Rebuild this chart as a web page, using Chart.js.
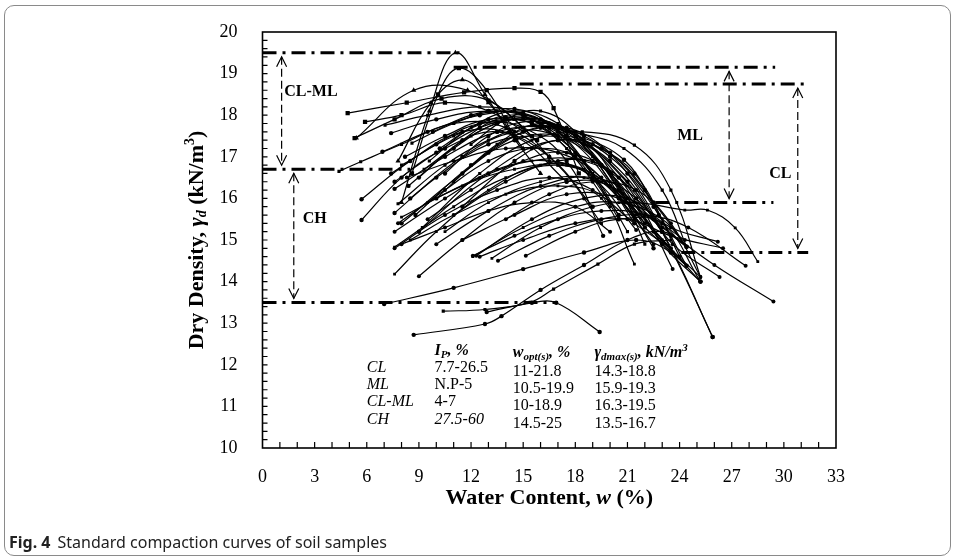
<!DOCTYPE html>
<html>
<head>
<meta charset="utf-8">
<script src="https://cdn.jsdelivr.net/npm/chart.js@4.4.1/dist/chart.umd.min.js"></script>
<style>
  html, body { margin: 0; padding: 0; background: #fff; }
  #wrap { position: relative; width: 955px; height: 560px; overflow: hidden; }
  #frame { position: absolute; left: 4px; top: 5px; width: 947px; height: 551px;
           border: 1.5px solid #8a8a8a; border-radius: 10px; box-sizing: border-box; }
  #chart { position: absolute; left: 0; top: 0; }
  #caption { position: absolute; left: 9px; top: 531px; font: 16px 'Noto Sans', sans-serif; color: #222; }
  #caption b { margin-right: 7px; }
</style>
</head>
<body>
<div id="wrap">
  <div id="frame"></div>
  <canvas id="chart" width="955" height="560"></canvas>
  <div id="caption"><b>Fig. 4</b>Standard compaction curves of soil samples</div>
</div>
<script>
// axes
const xRange = [0, 33];
const xStep = 3;
const yRange = [10, 20];
const yStep = 1;

// compaction curves, [water content %, dry density kN/m3]
const clmlCurves = [
  [[8.0,15.9],[9.6,18.1],[11.1,19.5],[12.8,18.5],[14.2,17.6],[16.0,16.6]],
  [[8.6,16.6],[10.1,18.5],[11.3,19.13],[12.9,18.6],[14.6,17.4]],
  [[7.8,16.9],[9.7,18.3],[11.5,18.85],[13.0,18.3],[15.0,17.2]],
  [[5.4,17.45],[8.7,18.6],[11.8,18.6],[14.5,17.9],[16.5,17.0]],
  [[5.3,17.45],[7.6,17.9],[10.3,18.4],[13.0,18.35],[15.5,17.5]],
  [[4.9,18.05],[8.3,18.3],[11.6,18.55],[14.5,18.65],[16.0,18.56],[16.75,18.17],[18.2,16.6]],
  [[5.9,17.84],[8.0,18.0],[10.5,18.3],[13.0,18.1],[15.8,17.4]]
];

const mlCurves = [
  [[4.4,16.65],[5.65,16.88],[8.0,17.3],[11.0,17.8],[14.0,17.7],[17.0,16.8],[19.5,15.4]],
  [[5.7,15.98],[8.5,16.9],[11.5,17.6],[14.5,17.5],[17.5,16.4]],
  [[5.7,15.48],[8.0,16.5],[10.5,17.2],[13.5,17.6],[16.5,17.0],[19.0,15.8]],
  [[7.05,17.76],[9.5,18.0],[12.5,18.2],[15.0,18.0],[17.5,17.2],[20.0,15.8]],
  [[7.4,17.57],[10.0,17.9],[13.0,18.1],[15.5,17.9],[18.0,17.1],[20.5,15.6]],
  [[6.9,17.12],[9.5,17.6],[12.5,18.0],[15.0,18.05],[17.5,17.5],[20.05,16.6],[22.0,15.3]],
  [[8.6,17.33],[11.0,17.8],[13.5,18.1],[16.0,17.9],[18.5,17.4],[21.4,16.2]],
  [[7.6,16.4],[10.0,17.1],[12.5,17.7],[15.0,17.9],[17.5,17.6],[20.8,16.93],[22.8,15.6]],
  [[7.6,16.23],[10.5,17.0],[13.5,17.6],[16.5,17.7],[19.0,17.3],[21.4,16.6],[23.5,15.1]],
  [[7.8,15.87],[10.5,16.8],[13.0,17.4],[15.5,17.75],[18.35,17.55],[20.8,17.2],[23.0,16.2],[24.4,14.84]],
  [[7.6,15.65],[10.0,16.5],[13.0,17.3],[16.0,17.5],[18.5,17.3],[21.0,16.4],[23.0,15.2]],
  [[8.2,17.0],[10.5,17.5],[13.0,17.9],[15.5,17.8],[18.0,17.0],[20.0,15.9]],
  [[8.0,16.8],[11.0,17.5],[14.0,17.9],[16.5,17.6],[19.0,16.6],[21.0,15.2]],
  [[8.5,16.0],[11.5,17.0],[14.5,17.6],[17.0,17.5],[19.5,16.8],[22.0,15.4]],
  [[9.0,16.5],[11.5,17.4],[14.0,17.95],[16.5,17.7],[19.0,16.9],[21.4,15.4]],
  [[9.6,16.9],[12.0,17.7],[14.5,18.1],[17.0,17.8],[19.0,17.0],[20.8,15.9]],
  [[10.2,17.2],[12.5,17.8],[15.0,18.0],[17.0,17.6],[19.3,16.4]],
  [[8.8,15.6],[12.0,16.8],[15.0,17.6],[17.5,17.7],[20.0,17.1],[22.5,15.9],[24.4,14.84]],
  [[9.2,15.3],[12.5,16.6],[15.5,17.4],[18.4,17.6],[21.4,17.28],[23.5,16.2],[25.2,14.11]],
  [[10.0,16.0],[13.0,17.1],[16.0,17.7],[18.5,17.5],[21.0,16.6],[23.6,14.7],[25.9,12.67]],
  [[9.0,15.2],[13.0,16.6],[17.0,17.4],[20.0,16.9],[23.0,15.2],[25.9,12.67]],
  [[11.0,16.4],[13.5,17.3],[16.0,17.8],[18.5,17.4],[20.5,16.3],[22.0,14.9]],
  [[7.4,16.6],[10.0,17.3],[12.5,17.8],[15.0,17.7],[17.5,16.9],[19.6,15.1]],
  [[8.4,16.3],[11.0,17.2],[13.5,17.8],[16.0,17.9],[18.5,17.3],[20.5,16.2],[22.5,14.8]],
  [[9.3,16.7],[12.0,17.5],[14.5,17.9],[17.0,17.7],[19.5,16.8],[21.5,15.6]],
  [[10.5,16.6],[13.0,17.5],[15.5,17.85],[18.0,17.5],[20.5,16.5],[23.0,14.9],[25.2,14.0]],
  [[8.0,15.4],[11.5,16.6],[14.5,17.4],[17.5,17.5],[20.0,17.0],[22.5,15.8],[24.4,14.38]],
  [[12.0,17.3],[14.0,17.9],[16.0,18.1],[18.0,17.6],[20.0,16.4]],
  [[9.8,17.6],[12.0,18.0],[14.5,18.15],[16.5,17.8],[18.5,16.9],[20.5,15.5]],
  [[11.5,15.8],[14.5,16.9],[17.0,17.4],[19.5,17.2],[22.0,16.2],[24.0,14.6]]
];

const clCurves = [
  [[7.6,15.2],[10.5,16.0],[13.5,16.7],[16.5,16.9],[19.0,16.5],[21.5,15.24]],
  [[7.6,14.83],[11.0,15.8],[14.0,16.5],[17.0,16.8],[19.5,16.4],[22.0,15.3],[24.4,14.38]],
  [[7.6,14.8],[10.5,15.6],[13.5,16.2],[16.5,16.5],[19.0,16.2],[21.4,15.4],[23.5,14.8]],
  [[7.8,15.4],[10.5,16.2],[13.0,16.9],[15.5,17.2],[18.0,17.0],[20.5,16.0],[22.5,14.9]],
  [[7.6,14.18],[10.0,15.2],[13.0,16.2],[16.0,16.8],[18.5,16.7],[21.0,15.9],[23.5,14.8]],
  [[9.0,14.13],[11.5,15.0],[14.5,15.9],[17.5,16.4],[20.0,16.3],[22.5,15.5],[24.4,14.84]],
  [[12.1,14.62],[14.5,15.1],[17.0,15.5],[19.5,15.7],[22.0,15.6],[24.3,15.0]],
  [[12.1,14.6],[15.0,15.3],[18.0,15.8],[20.5,15.9],[23.0,15.5],[24.4,14.84]],
  [[12.3,14.62],[15.5,15.5],[18.5,16.0],[21.0,16.0],[23.5,15.3],[26.2,14.96]],
  [[12.5,14.6],[15.0,15.0],[18.0,15.4],[21.0,15.5],[23.5,15.1],[26.5,14.8]],
  [[13.2,14.56],[16.0,15.3],[19.0,15.8],[21.5,15.9],[24.3,15.72],[25.6,15.72],[27.2,15.29],[28.5,14.48]],
  [[13.55,14.5],[16.5,15.1],[19.5,15.5],[22.0,15.6],[24.5,15.3],[27.8,14.38]],
  [[15.15,14.62],[18.0,15.2],[20.5,15.5],[23.0,15.4],[25.2,14.0]],
  [[8.5,15.0],[11.0,15.6],[14.0,16.1],[17.0,16.3],[19.5,16.0],[21.4,14.42]],
  [[8.0,14.9],[10.5,15.3],[13.0,15.7],[15.5,15.9],[18.0,15.8],[20.0,15.2]],
  [[9.5,15.5],[12.0,16.2],[15.0,16.9],[17.5,17.1],[20.0,16.6],[22.5,15.2],[24.4,14.38]],
  [[10.5,15.2],[13.0,15.9],[16.0,16.4],[18.5,16.5],[21.0,16.0],[23.0,15.0],[25.2,14.11]],
  [[11.0,15.6],[14.0,16.4],[17.0,16.9],[19.5,16.8],[21.5,16.0],[23.6,14.3]],
  [[8.3,16.5],[11.0,16.9],[14.0,17.2],[17.0,17.1],[19.5,16.5],[21.4,15.5]],
  [[8.0,15.55],[11.5,16.3],[14.5,16.7],[17.5,16.8],[20.0,16.3],[22.0,15.4]],
  [[11.5,15.0],[14.5,15.6],[17.5,16.1],[20.5,16.0],[23.0,15.3],[26.0,14.4],[29.4,13.52]],
  [[10.0,14.9],[13.0,15.7],[16.0,16.3],[19.0,16.5],[21.5,16.0],[23.6,14.9],[26.3,14.11]],
  [[9.5,15.9],[12.5,16.5],[15.5,16.9],[18.5,16.9],[21.0,16.3],[23.0,15.2]],
  [[14.0,15.5],[16.5,16.1],[19.0,16.4],[21.5,16.2],[23.5,15.4],[25.2,14.11]]
];

const chCurves = [
  [[7.0,13.46],[11.0,13.85],[15.0,14.3],[18.5,14.7],[21.5,15.0],[23.5,14.7],[25.2,14.0]],
  [[8.7,12.72],[12.8,12.98],[13.75,13.17],[16.0,13.8],[18.5,14.4],[21.0,15.0],[23.0,15.2],[24.4,14.84]],
  [[10.4,13.29],[12.8,13.33],[15.4,13.5],[16.75,13.82],[19.3,14.42],[21.4,14.9],[23.5,15.0]],
  [[12.9,13.27],[15.5,13.49],[16.9,13.49],[19.4,12.79]]
];

// dash-dot limits: [density, from w, to w]
const limitLines = [
  [19.5, 0, 11.5],
  [19.15, 11.0, 29.5],
  [18.75, 14.8, 31.4],
  [16.7, 0, 8.5],
  [15.9, 22.6, 29.4],
  [14.7, 24.1, 31.4],
  [13.5, 0, 17.0]
];

// range arrows: [w, top density, bottom density]
const rangeArrows = [
  [1.1, 19.5, 16.7],
  [1.8, 16.7, 13.5],
  [26.85, 19.15, 15.9],
  [30.8, 18.75, 14.7]
];

// group labels: [text, w, density, align]
const groupLabels = [
  ['CL-ML', 1.25, 18.55, 'left'],
  ['CH', 3.0, 15.5, 'center'],
  ['ML', 24.6, 17.5, 'center'],
  ['CL', 29.8, 16.6, 'center']
];

// summary table
const soilGroups = ['CL', 'ML', 'CL-ML', 'CH'];
const plasticityRanges = ['7.7-26.5', 'N.P-5', '4-7', '27.5-60'];
const optimumWaterRanges = ['11-21.8', '10.5-19.9', '10-18.9', '14.5-25'];
const maxDensityRanges = ['14.3-18.8', '15.9-19.3', '16.3-19.5', '13.5-16.7'];
const tableColW = [6.0, 9.9, 14.4, 19.1];
const tableRowY = [11.92, 11.51, 11.1, 10.67];
const tableHeadY = 12.33;

const SERIF = "'Liberation Serif', 'Times New Roman', serif";
const fnt = (style, size) => `${style} ${size}px ${SERIF}`;

function curveSets(list, styles, radius) {
  return list.map((pts, i) => ({
    data: pts.map(p => ({ x: p[0], y: p[1] })),
    showLine: true,
    borderColor: '#000',
    backgroundColor: '#000',
    borderWidth: 1.2,
    tension: 0.4,
    pointStyle: styles[i % styles.length],
    pointRadius: radius,
    pointBorderWidth: 0,
    order: 2
  }));
}

const datasets = [
  ...curveSets(clmlCurves, ['triangle', 'rect', 'triangle', 'triangle', 'rect', 'rect', 'rect'], 3),
  ...curveSets(mlCurves, ['rect', 'circle', 'circle'], 2.2),
  ...curveSets(clCurves, ['circle', 'rect', 'circle'], 2),
  ...curveSets(chCurves, ['circle', 'circle', 'rect', 'circle'], 2.2)
];

limitLines.forEach(l => datasets.push({
  data: [{ x: l[1], y: l[0] }, { x: l[2], y: l[0] }],
  showLine: true, borderColor: '#000', borderWidth: 3, borderDash: [14, 6, 3, 6],
  pointRadius: 0, tension: 0, order: 0
}));

function drawRich(ctx, parts, x, y, align) {
  let w = 0;
  parts.forEach(p => { ctx.font = p.font; w += ctx.measureText(p.text).width; });
  let cx = align === 'center' ? x - w / 2 : x;
  parts.forEach(p => {
    ctx.font = p.font;
    ctx.fillText(p.text, cx, y + (p.dy || 0));
    cx += ctx.measureText(p.text).width;
  });
}

const decorations = {
  id: 'decorations',
  afterDatasetsDraw(chart) {
    const { ctx, chartArea: a, scales: { x, y } } = chart;
    ctx.save();
    ctx.strokeStyle = '#000';
    ctx.fillStyle = '#000';

    // plot box
    ctx.lineWidth = 1.6;
    ctx.setLineDash([]);
    ctx.strokeRect(a.left, a.top, a.right - a.left, a.bottom - a.top);

    // inward minor ticks
    ctx.lineWidth = 1.2;
    ctx.beginPath();
    for (let v = xRange[0] + 1; v < xRange[1]; v++) {
      const px = x.getPixelForValue(v);
      ctx.moveTo(px, a.bottom); ctx.lineTo(px, a.bottom - 6);
    }
    for (let k = 1; k < (yRange[1] - yRange[0]) * 5; k++) {
      const py = y.getPixelForValue(yRange[0] + k * 0.2);
      ctx.moveTo(a.left, py); ctx.lineTo(a.left + 5, py);
    }
    ctx.stroke();

    // range arrows
    rangeArrows.forEach(([w, top, bot]) => {
      const px = x.getPixelForValue(w);
      const t = y.getPixelForValue(top) + 4;
      const b = y.getPixelForValue(bot) - 4;
      ctx.lineWidth = 1.2;
      ctx.setLineDash([8, 4]);
      ctx.beginPath(); ctx.moveTo(px, t); ctx.lineTo(px, b); ctx.stroke();
      ctx.setLineDash([]);
      ctx.beginPath();
      ctx.moveTo(px - 5, t + 10); ctx.lineTo(px, t); ctx.lineTo(px + 5, t + 10);
      ctx.moveTo(px - 5, b - 10); ctx.lineTo(px, b); ctx.lineTo(px + 5, b - 10);
      ctx.stroke();
    });

    // group labels
    ctx.textBaseline = 'middle';
    ctx.font = fnt('bold', 16);
    groupLabels.forEach(([txt, w, d, align]) => {
      ctx.textAlign = align;
      ctx.fillText(txt, x.getPixelForValue(w), y.getPixelForValue(d));
    });

    // table
    ctx.textAlign = 'left';
    const cx = tableColW.map(v => x.getPixelForValue(v));
    const hy = y.getPixelForValue(tableHeadY);
    const bi = fnt('bold italic', 16), bs = fnt('bold italic', 11);
    drawRich(ctx, [{ text: 'I', font: bi }, { text: 'P', font: bs, dy: 4 }, { text: ', %', font: bi }], cx[1], hy);
    drawRich(ctx, [{ text: 'w', font: bi }, { text: 'opt(s)', font: bs, dy: 4 }, { text: ', %', font: bi }], cx[2], hy + 2);
    drawRich(ctx, [{ text: 'γ', font: bi }, { text: 'dmax(s)', font: bs, dy: 4 }, { text: ', kN/m', font: bi },
                   { text: '3', font: bs, dy: -5 }], cx[3], hy + 2);
    soilGroups.forEach((g, i) => {
      const ry = y.getPixelForValue(tableRowY[i]);
      ctx.font = fnt('italic', 16);
      ctx.fillText(g, cx[0], ry);
      ctx.font = fnt(i === 3 ? 'italic' : 'normal', 16);
      ctx.fillText(plasticityRanges[i], cx[1], ry);
      ctx.font = fnt('normal', 16);
      ctx.fillText(optimumWaterRanges[i], cx[2], ry + 4);
      ctx.fillText(maxDensityRanges[i], cx[3], ry + 4);
    });

    // axis titles
    const midX = (a.left + a.right) / 2, midY = (a.top + a.bottom) / 2;
    const tb = fnt('bold', 22), tbi = fnt('bold italic', 22), ts = fnt('bold italic', 14), tsup = fnt('bold', 14);
    ctx.textBaseline = 'middle';
    drawRich(ctx, [{ text: 'Water Content, ', font: tb }, { text: 'w', font: tbi }, { text: ' (%)', font: tb }],
      midX, 498, 'center');
    ctx.translate(197, midY);
    ctx.rotate(-Math.PI / 2);
    drawRich(ctx, [{ text: 'Dry Density, ', font: tb }, { text: 'γ', font: tbi }, { text: 'd', font: ts, dy: 5 },
                   { text: ' (kN/m', font: tb }, { text: '3', font: tsup, dy: -7 }, { text: ')', font: tb }],
      0, 0, 'center');
    ctx.restore();
  }
};

new Chart(document.getElementById('chart'), {
  type: 'scatter',
  data: { datasets },
  options: {
    responsive: false,
    animation: false,
    layout: { padding: { top: 32, right: 119, bottom: 0, left: 0 } },
    plugins: { legend: { display: false }, tooltip: { enabled: false } },
    scales: {
      x: {
        type: 'linear', min: xRange[0], max: xRange[1],
        grid: { display: false }, border: { display: false },
        ticks: { stepSize: xStep, padding: 10, color: '#000', font: { family: SERIF, size: 18 } },
        afterFit(scale) { scale.height = 112; }
      },
      y: {
        type: 'linear', min: yRange[0], max: yRange[1],
        grid: { display: false }, border: { display: false },
        ticks: { stepSize: yStep, padding: 17, color: '#000', font: { family: SERIF, size: 18 } },
        afterFit(scale) { scale.width = 262.5; }
      }
    }
  },
  plugins: [decorations]
});
</script>
</body>
</html>
